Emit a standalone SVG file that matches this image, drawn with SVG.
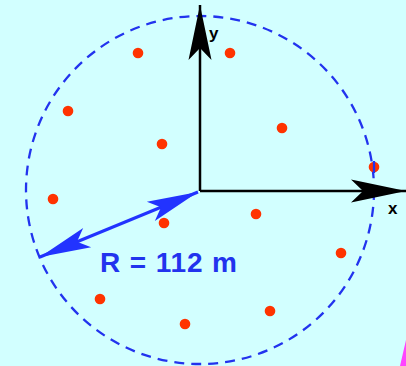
<svg xmlns="http://www.w3.org/2000/svg" width="406" height="366" viewBox="0 0 406 366">
<style>
.dot{fill:#ff3300}
.axis{stroke:#000;stroke-width:2.5;fill:none}
.lbl{font-family:"Liberation Sans",Arial,sans-serif;font-weight:bold;fill:#000;font-size:17px}
</style>
<defs>
<marker id="ah" markerUnits="userSpaceOnUse" markerWidth="70" markerHeight="30" viewBox="-60 -15 62 30" refX="0" refY="0" orient="auto">
<path d="M0,0 L-55,-11.5 L-43,0 L-55,11.5 Z" fill="#000"/>
</marker>
<marker id="bh" markerUnits="userSpaceOnUse" markerWidth="70" markerHeight="30" viewBox="-60 -15 62 30" refX="0" refY="0" orient="auto-start-reverse">
<path d="M0,0 L-51,-10.5 L-40,0 L-51,10.5 Z" fill="#2233ff"/>
</marker>
</defs>
<rect width="406" height="366" fill="#d2ffff"/>
<polygon points="406,340 406,366 400,366" fill="#ff44ff"/>
<circle id="boundary" cx="200" cy="190" r="174" fill="none" stroke="#2233ee" stroke-width="2.3" stroke-dasharray="10,7"/>
<g id="points">
<circle class="dot" cx="138" cy="53" r="5.3"/>
<circle class="dot" cx="230" cy="53" r="5.3"/>
<circle class="dot" cx="68" cy="111" r="5.3"/>
<circle class="dot" cx="282" cy="128" r="5.3"/>
<circle class="dot" cx="162" cy="144" r="5.3"/>
<circle class="dot" cx="374" cy="167" r="5.3"/>
<circle class="dot" cx="53" cy="199" r="5.3"/>
<circle class="dot" cx="256" cy="214" r="5.3"/>
<circle class="dot" cx="164" cy="223" r="5.3"/>
<circle class="dot" cx="341" cy="253" r="5.3"/>
<circle class="dot" cx="100" cy="299" r="5.3"/>
<circle class="dot" cx="270" cy="311" r="5.3"/>
<circle class="dot" cx="185" cy="324" r="5.3"/>
</g>
<line x1="374" y1="161" x2="374" y2="173" stroke="#2233ee" stroke-width="2.3"/>
<g id="axes">
<path class="axis" d="M200,191 V5" marker-end="url(#ah)"/>
<path class="axis" d="M200,191 H406" marker-end="url(#ah)"/>
<text class="lbl" x="209" y="39">y</text>
<text class="lbl" x="388" y="214">x</text>
</g>
<g id="radius">
<path d="M40,257 L198,192" stroke="#2233ff" stroke-width="3" fill="none" marker-start="url(#bh)" marker-end="url(#bh)"/>
<text x="100" y="272" font-family="Liberation Sans,Arial,sans-serif" font-weight="bold" font-size="28" fill="#2233ee" textLength="137" lengthAdjust="spacing">R = 112 m</text>
</g>
</svg>
